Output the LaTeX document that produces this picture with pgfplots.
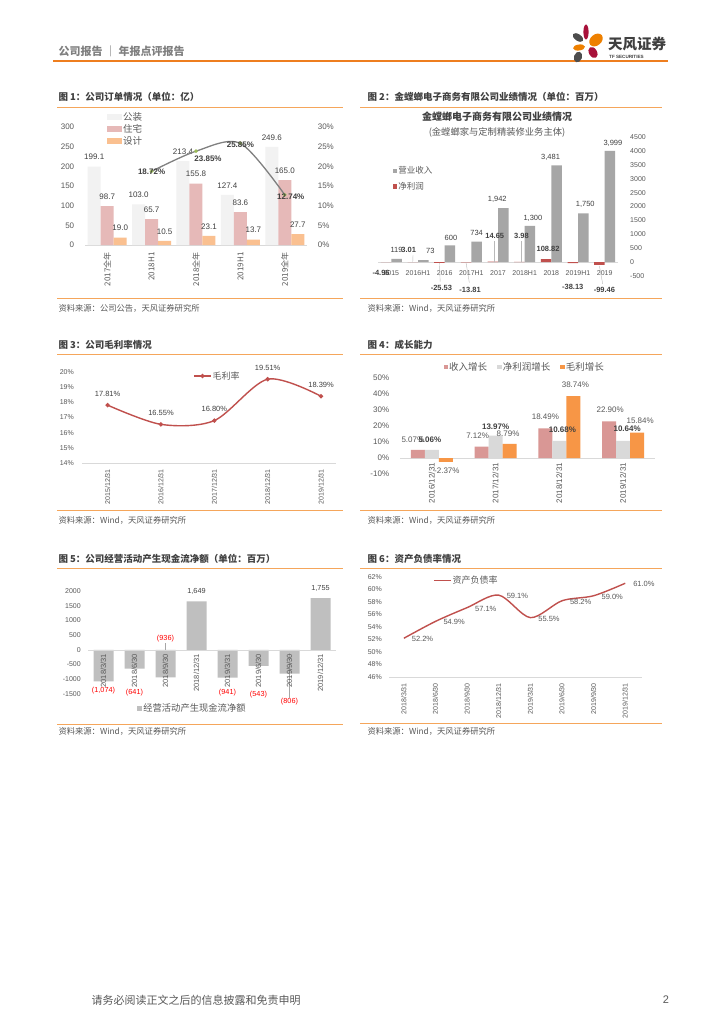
\documentclass[border=0pt]{standalone}
\usepackage{fontspec}
\setmainfont{Liberation Sans}
\newfontfamily\cjk{Noto Sans CJK SC}
\usepackage{xcolor}
\usepackage{pgfplots}
\pgfplotsset{compat=1.18}

\definecolor{tickc}{HTML}{595959}
\definecolor{labc}{HTML}{404040}
\definecolor{axc}{HTML}{D9D9D9}
\definecolor{orgl}{HTML}{F5A65B}
\definecolor{hdrorg}{HTML}{EE7E1F}
\definecolor{hdrgray}{HTML}{7F7F7F}
\definecolor{c1a}{HTML}{F2F2F2}
\definecolor{c1b}{HTML}{E6B9B8}
\definecolor{c1c}{HTML}{FAC090}
\definecolor{c1line}{HTML}{808080}
\definecolor{c1mark}{HTML}{9BBB59}
\definecolor{c2a}{HTML}{A6A6A6}
\definecolor{c2b}{HTML}{C0504D}
\definecolor{c4a}{HTML}{D99795}
\definecolor{c4b}{HTML}{D9D9D9}
\definecolor{c4c}{HTML}{F79646}
\definecolor{c5}{HTML}{BFBFBF}
\definecolor{labred}{HTML}{FF0000}
\definecolor{petgray}{HTML}{4D4D4D}
\definecolor{petred}{HTML}{A8113A}
\definecolor{petorg}{HTML}{EE8000}

\pgfplotsset{
  rep/.style={
    scale only axis, anchor=south west, clip=false,
    axis x line*=bottom, axis y line*=left,
    x axis line style={draw=axc, line width=0.7pt},
    y axis line style={draw=none},
    major tick length=0pt, tick style={draw=none},
    tick label style={text=tickc},
    /pgf/number format/assume math mode=true,
    /pgf/number format/1000 sep={},
    scaled ticks=false,
    legend cell align=left,
  },
  zeroline/.style={extra y ticks={0}, extra y tick labels={},
    extra y tick style={grid=major, major grid style={draw=axc, line width=0.7pt}}},
}

\begin{document}
\begin{tikzpicture}[x=1pt,y=1pt]
\fill[white] (0,0) rectangle (724,-1024);

% ---------- header / footer
\node[anchor=west, font=\cjk\bfseries\fontsize{11}{12}\selectfont, text=hdrgray] at (55,-51.5) {公司报告 ｜ 年报点评报告};
\draw[hdrorg, line width=1.6pt] (53,-61) -- (668,-61);
\fill[petgray, rotate around={-35:(578,-37.5)}] (578,-37.5) ellipse (6pt and 3.3pt);
\fill[petred] (586,-32) ellipse (2.6pt and 7.5pt);
\fill[petorg, rotate around={40:(596,-40)}] (596,-40) ellipse (7.5pt and 5.5pt);
\fill[petorg, rotate around={8:(579,-47.5)}] (579,-47.5) ellipse (6pt and 3pt);
\fill[petred, rotate around={30:(593,-52.5)}] (593,-52.5) ellipse (4pt and 6pt);
\fill[petgray, rotate around={-20:(578,-57)}] (578,-57) ellipse (4pt and 5.5pt);
\node[anchor=west, font=\cjk\bfseries\fontsize{14.5}{15}\selectfont, text=labc, inner sep=0pt] at (608,-44) {天风证券};
\node[anchor=west, font=\bfseries\fontsize{4.6}{5}\selectfont, text=labc, inner sep=0pt] at (609,-56.5) {TF SECURITIES};
\node[anchor=west, font=\cjk\fontsize{11}{12}\selectfont, text=tickc] at (88,-1000) {请务必阅读正文之后的信息披露和免责申明};
\node[font=\fontsize{11}{12}\selectfont, text=tickc] at (666,-1000) {2};

% ---------- panel frames
\foreach \xa/\xb/\yt/\ys in {57/343/107.5/298, 360/662/107.5/298,
    57/343/354.5/510, 360/662/354.5/510, 57/343/568.5/724, 360/662/568.5/723.5}{
  \draw[orgl, line width=0.9pt] (\xa,-\yt) -- (\xb,-\yt);
  \draw[orgl, line width=0.9pt] (\xa,-\ys) -- (\xb,-\ys);
}
\node[anchor=west, font=\cjk\bfseries\fontsize{9.5}{10}\selectfont, text=labc] at (55,-97) {图 1：公司订单情况（单位：亿）};
\node[anchor=west, font=\cjk\bfseries\fontsize{9.5}{10}\selectfont, text=labc] at (364,-97) {图 2：金螳螂电子商务有限公司业绩情况（单位：百万）};
\node[anchor=west, font=\cjk\bfseries\fontsize{9.5}{10}\selectfont, text=labc] at (55,-345) {图 3：公司毛利率情况};
\node[anchor=west, font=\cjk\bfseries\fontsize{9.5}{10}\selectfont, text=labc] at (364,-345) {图 4：成长能力};
\node[anchor=west, font=\cjk\bfseries\fontsize{9.5}{10}\selectfont, text=labc] at (55,-558.5) {图 5：公司经营活动产生现金流净额（单位：百万）};
\node[anchor=west, font=\cjk\bfseries\fontsize{9.5}{10}\selectfont, text=labc] at (364,-558.5) {图 6：资产负债率情况};
\node[anchor=west, font=\cjk\fontsize{8.3}{9}\selectfont, text=tickc] at (55,-308.5) {资料来源：公司公告，天风证券研究所};
\foreach \xx/\yy in {364/308.5, 55/520.5, 364/520.5, 55/731.5, 364/731.5}{
  \node[anchor=west, font=\cjk\fontsize{8.3}{9}\selectfont, text=tickc] at (\xx,-\yy) {资料来源：Wind，天风证券研究所};
}

% ---------- chart 1: orders (bars)
\begin{axis}[rep, at={(85pt,-245pt)}, width=222pt, height=118pt,
  xmin=-0.5, xmax=4.5, ymin=0, ymax=300, ytick={0,50,...,300},
  xtick={0,...,4}, xticklabels={2017全年,2018H1,2018全年,2019H1,2019全年},
  x tick label style={yshift=-4pt, rotate=90, anchor=east, font=\cjk\fontsize{8}{9}\selectfont},
  y tick label style={xshift=-7.3pt, font=\fontsize{8}{9}\selectfont},
  ybar=0pt, bar width=13pt,
  every axis plot post/.append style={legend image code/.code={\fill[##1,draw=none] (0pt,-3pt) rectangle (15pt,3pt);}},
  nodes near coords={\pgfmathprintnumber[fixed,fixed zerofill,precision=1]{\pgfplotspointmeta}},
  every node near coord/.append style={anchor=center, yshift=9.5pt, font=\fontsize{8}{9}\selectfont, text=labc},
  legend style={at={(0.099,1.135)}, anchor=north west, draw=none, fill=none, inner sep=0pt, row sep=0.5pt,
    nodes={inner sep=1pt}, font=\cjk\fontsize{9.5}{10}\selectfont, text=tickc},
]
\addplot[fill=c1a, draw=none] coordinates {(0,199.1) (1,103.0) (2,213.4) (3,127.4) (4,249.6)};
\addlegendentry{公装}
\addplot[fill=c1b, draw=none] coordinates {(0,98.7) (1,65.7) (2,155.8) (3,83.6) (4,165.0)};
\addlegendentry{住宅}
\addplot[fill=c1c, draw=none] coordinates {(0,19.0) (1,10.5) (2,23.1) (3,13.7) (4,27.7)};
\addlegendentry{设计}
\end{axis}
\begin{axis}[rep, at={(85pt,-245pt)}, width=222pt, height=118pt,
  axis y line*=right, x axis line style={draw=none},
  xmin=-0.5, xmax=4.5, xtick=\empty, ymin=0, ymax=30, ytick={0,5,...,30},
  yticklabel={\pgfmathprintnumber{\tick}\%},
  y tick label style={xshift=7.3pt, font=\fontsize{8}{9}\selectfont},
]
\addplot[smooth, color=c1line, line width=1.3pt, mark=*, mark size=1.1pt, mark options={draw=c1mark, fill=c1mark},
  nodes near coords={\pgfmathprintnumber[fixed,fixed zerofill,precision=2]{\pgfplotspointmeta}\%},
  visualization depends on={value \thisrow{dx}\as\dx},
  visualization depends on={value \thisrow{dy}\as\dy},
  every node near coord/.append style={anchor=center, xshift=\dx pt, yshift=\dy pt, font=\bfseries\fontsize{8}{9}\selectfont, text=labc}]
  table {
x y dx dy
1 18.72 0 0
2 23.85 12 -8
3 25.85 0 -1
4 12.74 6 -2
};
\end{axis}

% ---------- chart 2: e-commerce subsidiary
\node[font=\cjk\bfseries\fontsize{10}{11}\selectfont, text=labc] at (497,-117) {金螳螂电子商务有限公司业绩情况};
\node[font=\cjk\fontsize{9.3}{10}\selectfont, text=tickc] at (497,-132) {(金螳螂家与定制精装修业务主体)};
\begin{axis}[rep, zeroline, at={(378pt,-276pt)}, width=240pt, height=139pt,
  axis y line*=right, x axis line style={draw=none},
  xmin=-0.5, xmax=8.5, ymin=-500, ymax=4500, ytick={-500,0,...,4500},
  xtick={0,...,8}, xticklabels={2015,2016H1,2016,2017H1,2017,2018H1,2018,2019H1,2019},
  x tick label style={yshift=8.5pt, font=\fontsize{7}{8}\selectfont},
  y tick label style={xshift=8.7pt, font=\fontsize{7}{8}\selectfont},
  ybar=0pt, bar width=10.5pt,
  every axis plot post/.append style={legend image code/.code={\fill[##1,draw=none] (0pt,-2.2pt) rectangle (4.4pt,2.2pt);}},
  reverse legend,
  legend style={at={(0.062,0.795)}, anchor=north west, draw=none, fill=none, inner sep=0pt, row sep=5pt,
    nodes={inner sep=1pt}, font=\cjk\fontsize{8.5}{9}\selectfont, text=tickc},
]
\addplot[fill=c2b, draw=none,
  nodes near coords={\pgfmathprintnumber[fixed,fixed zerofill,precision=2]{\pgfplotspointmeta}},
  visualization depends on={value \thisrow{dx}\as\dx},
  visualization depends on={value \thisrow{dy}\as\dy},
  every node near coord/.append style={anchor=center, xshift=\dx pt, yshift=\dy pt, font=\bfseries\fontsize{7.5}{8}\selectfont, text=labc}]
  table {
x y dx dy
0 -4.96 -5 -11
1 3.01 -4 12
2 -25.53 2 -25
3 -13.81 4 -27
4 14.65 2 26
5 3.98 2 26
6 108.82 2 10
7 -38.13 0 -24
8 -99.46 5 -25
};
\addlegendentry{净利润}
\addplot[fill=c2a, draw=none,
  nodes near coords={\pgfmathprintnumber[fixed,precision=0,1000 sep={,}]{\pgfplotspointmeta}},
  visualization depends on={value \thisrow{dx}\as\dx},
  visualization depends on={value \thisrow{dy}\as\dy},
  every node near coord/.append style={anchor=center, xshift=\dx pt, yshift=\dy pt, font=\fontsize{7.5}{8}\selectfont, text=labc}]
  table {
x y dx dy
0 119 0 9
1 73 7 9
2 600 1 8
3 734 0 9
4 1942 -6 9
5 1300 3 8
6 3481 -6 8
7 1750 2 9
8 3999 3 8
};
\addlegendentry{营业收入}
\draw[gray!55, line width=0.4pt] ([xshift=-5.25pt]axis cs:1,0) -- ([xshift=-5pt]axis cs:1,250);
\draw[gray!55, line width=0.4pt] ([xshift=-5.25pt]axis cs:2,-30) -- ([xshift=-4.5pt]axis cs:2,-700);
\draw[gray!55, line width=0.4pt] ([xshift=-5.25pt]axis cs:3,-30) -- ([xshift=-2pt]axis cs:3,-740);
\draw[gray!55, line width=0.4pt] ([xshift=-3.8pt]axis cs:4,0) -- ([xshift=-3.8pt]axis cs:4,750);
\draw[gray!55, line width=0.4pt] ([xshift=-3pt]axis cs:5,0) -- ([xshift=-3pt]axis cs:5,750);
\draw[gray!55, line width=0.4pt] ([xshift=-5.25pt]axis cs:8,-140) -- ([xshift=-2pt]axis cs:8,-780);
\end{axis}

% ---------- chart 3: gross margin
\begin{axis}[rep, at={(82pt,-463.3pt)}, width=254pt, height=91.6pt,
  xmin=-0.48, xmax=4.28, ymin=14, ymax=20, ytick={14,...,20},
  yticklabel={\pgfmathprintnumber{\tick}\%},
  xtick={0,...,4}, xticklabels={2015/12/31,2016/12/31,2017/12/31,2018/12/31,2019/12/31},
  x tick label style={yshift=-2.4pt, rotate=90, anchor=east, font=\fontsize{7}{8}\selectfont},
  y tick label style={xshift=-4.7pt, font=\fontsize{7}{8}\selectfont},
  legend style={at={(0.437,0.953)}, anchor=west, draw=none, fill=none, inner sep=0pt,
    nodes={inner sep=1pt}, font=\cjk\fontsize{9}{10}\selectfont, text=tickc},
]
\addplot[smooth, color=c2b, line width=1.4pt, mark=*, mark size=1.4pt,
  nodes near coords={\pgfmathprintnumber[fixed,fixed zerofill,precision=2]{\pgfplotspointmeta}\%},
  every node near coord/.append style={anchor=center, yshift=11.5pt, font=\fontsize{7.5}{8}\selectfont, text=labc}]
  coordinates {(0,17.81) (1,16.55) (2,16.80) (3,19.51) (4,18.39)};
\addlegendentry{毛利率}
\end{axis}

% ---------- chart 4: growth
\begin{axis}[rep, zeroline, at={(400pt,-474pt)}, width=255pt, height=96pt,
  x axis line style={draw=none},
  xmin=-0.5, xmax=3.5, ymin=-10, ymax=50, ytick={-10,0,...,50},
  yticklabel={\pgfmathprintnumber{\tick}\%},
  xtick={0,...,3}, xticklabels={2016/12/31,2017/12/31,2018/12/31,2019/12/31},
  x tick label style={yshift=14.5pt, rotate=90, anchor=east, font=\fontsize{8}{9}\selectfont},
  y tick label style={xshift=-7.3pt, font=\fontsize{8}{9}\selectfont},
  ybar=0pt, bar width=14pt,
  every axis plot post/.append style={legend image code/.code={\fill[##1,draw=none] (0pt,-2.3pt) rectangle (4.6pt,2.3pt);}},
  legend columns=3,
  legend style={at={(0.17,1.115)}, anchor=west, draw=none, fill=none, inner sep=0pt,
    nodes={inner sep=1pt}, font=\cjk\fontsize{9.5}{10}\selectfont, text=tickc,
    /tikz/every even column/.append style={column sep=9pt}},
  nodes near coords={\pgfmathprintnumber[fixed,fixed zerofill,precision=2]{\pgfplotspointmeta}\%},
]
\addplot[fill=c4a, draw=none,
  visualization depends on={value \thisrow{dx}\as\dx},
  visualization depends on={value \thisrow{dy}\as\dy},
  every node near coord/.append style={anchor=center, xshift=\dx pt, yshift=\dy pt, font=\fontsize{8}{9}\selectfont, text=tickc}]
  table {
x y dx dy
0 5.07 -5 10
1 7.12 -4 10.5
2 18.49 0 11.5
3 22.90 1 11.5
};
\addlegendentry{收入增长}
\addplot[fill=c4b, draw=none,
  visualization depends on={value \thisrow{dx}\as\dx},
  visualization depends on={value \thisrow{dy}\as\dy},
  every node near coord/.append style={anchor=center, xshift=\dx pt, yshift=\dy pt, font=\bfseries\fontsize{8}{9}\selectfont, text=labc}]
  table {
x y dx dy
0 5.06 -2 10
1 13.97 0 8.6
2 10.68 3 11
3 10.64 4 12
};
\addlegendentry{净利润增长}
\addplot[fill=c4c, draw=none,
  visualization depends on={value \thisrow{dx}\as\dx},
  visualization depends on={value \thisrow{dy}\as\dy},
  every node near coord/.append style={anchor=center, xshift=\dx pt, yshift=\dy pt, font=\fontsize{8}{9}\selectfont, text=tickc}]
  table {
x y dx dy
0 -2.37 1 -9
1 8.79 -1.6 10
2 38.74 2 11
3 15.84 3 11.7
};
\addlegendentry{毛利增长}
\end{axis}

% ---------- chart 5: operating cash flow
\begin{axis}[rep, zeroline, axis on top, at={(88pt,-694pt)}, width=248pt, height=103pt,
  x axis line style={draw=none},
  xmin=-0.5, xmax=7.5, ymin=-1500, ymax=2000, ytick={-1500,-1000,...,2000},
  xtick={0,...,7}, xticklabels={2018/3/31,2018/6/30,2018/9/30,2018/12/31,2019/3/31,2019/6/30,2019/9/30,2019/12/31},
  x tick label style={yshift=43.5pt, rotate=90, anchor=east, font=\fontsize{7.5}{8}\selectfont},
  y tick label style={xshift=-3.7pt, font=\fontsize{7}{8}\selectfont},
  ybar, bar width=20pt,
  every axis plot post/.append style={legend image code/.code={\fill[##1,draw=none] (0pt,-2.5pt) rectangle (5pt,2.5pt);}},
  legend style={at={(0.198,-0.136)}, anchor=west, draw=none, fill=none, inner sep=0pt,
    nodes={inner sep=1pt}, font=\cjk\fontsize{9.3}{10}\selectfont, text=tickc},
]
\addplot[fill=c5, draw=none, point meta=explicit symbolic, nodes near coords,
  visualization depends on={value \thisrow{dy}\as\dy},
  visualization depends on={value \thisrow{lc}\as\labcol},
  every node near coord/.append style={anchor=center, yshift=\dy pt, font=\fontsize{7.3}{8}\selectfont, text=\labcol}]
  table[meta=lab] {
x y lab dy lc
0 -1074 (1,074) -9 labred
1 -641 (641) -24 labred
2 -936 (936) 38.5 labred
3 1649 1,649 9.5 labc
4 -941 (941) -15.3 labred
5 -543 (543) -29 labred
6 -806 (806) -28.3 labred
7 1755 1,755 9.4 labc
};
\addlegendentry{经营活动产生现金流净额}
\draw[gray!70, line width=0.4pt] (axis cs:2,0) -- (axis cs:2,230);
\draw[gray!70, line width=0.4pt] (axis cs:6,-100) -- (axis cs:6,-1640);
\end{axis}

% ---------- chart 6: debt ratio
\begin{axis}[rep, at={(389pt,-677pt)}, width=253pt, height=100pt,
  xmin=-0.47, xmax=7.53, ymin=46, ymax=62, ytick={46,48,...,62},
  yticklabel={\pgfmathprintnumber{\tick}\%},
  xtick={0,...,7}, xticklabels={2018/3/31,2018/6/30,2018/9/30,2018/12/31,2019/3/31,2019/6/30,2019/9/30,2019/12/31},
  x tick label style={yshift=-2.7pt, rotate=90, anchor=east, font=\fontsize{7}{8}\selectfont},
  y tick label style={xshift=-3.7pt, font=\fontsize{7}{8}\selectfont},
  legend style={at={(0.174,0.963)}, anchor=west, draw=none, fill=none, inner sep=0pt,
    nodes={inner sep=1pt}, font=\cjk\fontsize{9}{10}\selectfont, text=tickc},
]
\addplot[smooth, color=c2b, line width=1.4pt,
  nodes near coords={\pgfmathprintnumber[fixed,fixed zerofill,precision=1]{\pgfplotspointmeta}\%},
  every node near coord/.append style={anchor=west, xshift=4pt, yshift=-1pt, font=\fontsize{7.5}{8}\selectfont, text=tickc}]
  coordinates {(0,52.2) (1,54.9) (2,57.1) (3,59.1) (4,55.5) (5,58.2) (6,59.0) (7,61.0)};
\addlegendentry{资产负债率}
\end{axis}
\end{tikzpicture}
\end{document}
